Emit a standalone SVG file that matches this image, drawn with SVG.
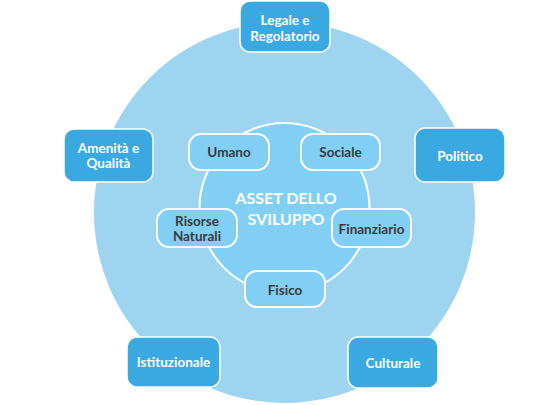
<svg xmlns="http://www.w3.org/2000/svg" width="545" height="405" viewBox="0 0 545 405">
<style>
.outer{fill:#3aa9e1;stroke:#ffffff;stroke-width:1.5}
.inner{fill:#81cff5;stroke:#ffffff;stroke-width:2}
.ot{font-family:Lato,"Open Sans",sans-serif;font-weight:bold;font-size:13.5px;fill:#ffffff;text-anchor:middle}
.it{font-family:Lato,"Open Sans",sans-serif;font-weight:bold;font-size:13.5px;fill:#3a3a3a;text-anchor:middle}
.ct{font-family:Lato,"Open Sans",sans-serif;font-weight:bold;font-size:16px;fill:#ffffff;text-anchor:middle}
</style>
<rect width="545" height="405" fill="#ffffff"/>
<g id="background">
<circle cx="284.5" cy="212.5" r="190.5" fill="#9dd5f0"/>
</g>
<g id="connectors"></g>
<g id="core">
<circle cx="284.5" cy="208" r="85" fill="#81cff5" stroke="#ffffff" stroke-width="2"/>
<text class="ct" x="286" y="204">ASSET DELLO</text>
<text class="ct" x="286" y="225">SVILUPPO</text>
</g>
<g id="legale">
<rect class="outer" x="240" y="1" width="90" height="51" rx="10"/>
<text class="ot" x="285" y="25">Legale e</text>
<text class="ot" x="285" y="41">Regolatorio</text>
</g>
<g id="amenita">
<rect class="outer" x="64" y="129" width="89" height="53" rx="10"/>
<text class="ot" x="108.5" y="153">Amenità e</text>
<text class="ot" x="108.5" y="168">Qualità</text>
</g>
<g id="politico">
<rect class="outer" x="415" y="128" width="90" height="54" rx="10"/>
<text class="ot" x="460" y="161">Politico</text>
</g>
<g id="istituzionale">
<rect class="outer" x="127" y="337" width="93" height="50" rx="10"/>
<text class="ot" x="173.5" y="367">Istituzionale</text>
</g>
<g id="culturale">
<rect class="outer" x="348" y="337" width="90" height="51" rx="10"/>
<text class="ot" x="393" y="368">Culturale</text>
</g>
<g id="umano">
<rect class="inner" x="189" y="134" width="80" height="36" rx="12"/>
<text class="it" x="229" y="157">Umano</text>
</g>
<g id="sociale">
<rect class="inner" x="301" y="134" width="79" height="36" rx="12"/>
<text class="it" x="340.5" y="157">Sociale</text>
</g>
<g id="risorse">
<rect class="inner" x="157" y="209" width="80" height="38" rx="12"/>
<text class="it" x="197" y="225.5">Risorse</text>
<text class="it" x="197" y="240.5">Naturali</text>
</g>
<g id="finanziario">
<rect class="inner" x="332" y="209" width="79" height="38" rx="12"/>
<text class="it" x="371.5" y="233.5">Finanziario</text>
</g>
<g id="fisico">
<rect class="inner" x="245" y="271" width="80" height="36" rx="12"/>
<text class="it" x="285" y="295">Fisico</text>
</g>
</svg>
